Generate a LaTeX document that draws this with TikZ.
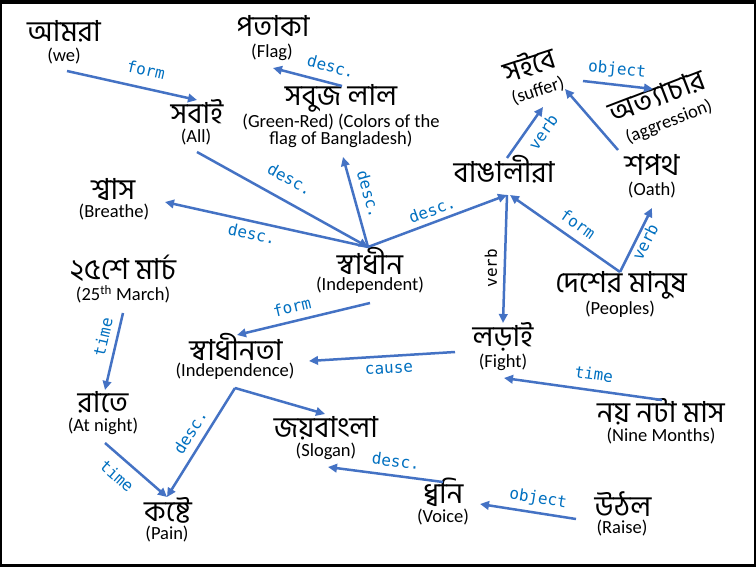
\documentclass[tikz,border=0pt]{standalone}
\usepackage{fontspec}
\setmainfont{Carlito}
\newfontfamily\bnfont[Script=Bengali]{Hind Siliguri}
\newfontfamily\relfont{DejaVu Sans Mono}
\usetikzlibrary{arrows.meta}
\definecolor{arr}{HTML}{4472C4}
\definecolor{lbl}{HTML}{0070C0}
\tikzset{
  word/.style={font=\bnfont\fontsize{29}{32}\selectfont, inner sep=0pt},
  gloss/.style={font=\fontsize{18.5}{16}\selectfont, inner sep=0pt, align=center},
  rel/.style={font=\relfont\fontsize{16}{18}\selectfont, text=lbl, inner sep=0pt},
  link/.style={draw=arr, line width=2.5pt, -{Triangle[length=9pt,width=8.5pt]}},
}
\begin{document}
\begin{tikzpicture}[x=1pt,y=-1pt]
\fill[black] (0,0) rectangle (756,567);
\fill[white] (2,4) rectangle (754,564);
\useasboundingbox (0,0) rectangle (756,567);

% nodes
\node[word] (amra) at (64,31) {আমরা};
\node[gloss] (amrag) at (64,56) {(we)};
\node[word] (sobai) at (197,112) {সবাই};
\node[gloss] (sobaig) at (196,137) {(All)};
\node[word] (potaka) at (273,26) {পতাকা};
\node[gloss] (potakag) at (272,52) {(Flag)};
\node[word] (sobuj) at (341,98) {সবুজ লাল};
\node[gloss] (sobujg) at (341,131) {(Green-Red) (Colors of the\\flag of Bangladesh)};
\node[word, rotate=18] (soibe) at (529,64) {সইবে};
\node[gloss, rotate=18] (soibeg) at (538,91) {(suffer)};
\node[word, rotate=21] (atta) at (657,96) {অত্যাচার};
\node[gloss, rotate=21] (attag) at (669,122) {(aggression)};
\node[word] (bangali) at (504,169) {বাঙালীরা};
\node[word] (shopoth) at (652,165) {শপথ};
\node[gloss] (shopothg) at (652,190) {(Oath)};
\node[word] (shvas) at (113,189) {শ্বাস};
\node[gloss] (shvasg) at (114,212) {(Breathe)};
\node[word] (svadhin) at (370,261) {স্বাধীন};
\node[gloss] (svadhing) at (370,285) {(Independent)};
\node[word] (march) at (123,268) {২৫শে মার্চ};
\node[gloss] (marchg) at (123,294) {(25\textsuperscript{th} March)};
\node[word] (desh) at (621,285) {দেশের মানুষ};
\node[gloss] (deshg) at (620,309) {(Peoples)};
\node[word] (svadhinota) at (236,347) {স্বাধীনতা};
\node[gloss] (svadhinotag) at (235,371) {(Independence)};
\node[word] (lorai) at (503,337) {লড়াই};
\node[gloss] (loraig) at (503,362) {(Fight)};
\node[word] (raate) at (103,402) {রাতে};
\node[gloss] (raateg) at (103,426) {(At night)};
\node[word] (joy) at (326,428) {জয়বাংলা};
\node[gloss] (joyg) at (326,451) {(Slogan)};
\node[word] (noy) at (661,412) {নয় নটা মাস};
\node[gloss] (noyg) at (661,436) {(Nine Months)};
\node[word] (koshte) at (168,510) {কষ্টে};
\node[gloss] (koshteg) at (167,534) {(Pain)};
\node[word] (dhoni) at (443,492) {ধ্বনি};
\node[gloss] (dhonig) at (443,517) {(Voice)};
\node[word] (uthol) at (623,504) {উঠল};
\node[gloss] (utholg) at (622,528) {(Raise)};

% connection points
\coordinate (amraOut) at (67,71);
\coordinate (sobaiIn) at (197,100);
\coordinate (sobaiOut) at (197,152);
\coordinate (svIn) at (368,247);
\coordinate (sobujOut) at (342,86);
\coordinate (potakaIn) at (273,68);
\coordinate (sobujIn) at (343,157);
\coordinate (shvasIn) at (165,202);
\coordinate (bnIn) at (507,195);
\coordinate (bnOut) at (507,158);
\coordinate (soibeIn) at (543,107);
\coordinate (shopothOut) at (618,150);
\coordinate (soibeIn2) at (565,89);
\coordinate (soibeOut) at (583,81);
\coordinate (attaIn) at (653,89);
\coordinate (loraiIn) at (503,323);
\coordinate (deshOut) at (620,272);
\coordinate (bnIn2) at (510,195);
\coordinate (shopothIn) at (652,208);
\coordinate (svOut) at (370,303);
\coordinate (svtaIn) at (237,335);
\coordinate (loraiOut) at (455,352);
\coordinate (svtaIn2) at (309,361);
\coordinate (noyOut) at (662,400);
\coordinate (loraiIn2) at (504,378);
\coordinate (marchOut) at (123,313);
\coordinate (raateIn) at (105,390);
\coordinate (raateOut) at (105,443);
\coordinate (koshteIn) at (167,497);
\coordinate (svtaOut) at (235,388);
\coordinate (joyIn) at (325,414);
\coordinate (dhoniOut) at (443,482);
\coordinate (joyIn2) at (328,467);
\coordinate (utholOut) at (576,519);
\coordinate (dhoniIn) at (480,504);

% connectors
\draw[link] (amraOut) -- (sobaiIn);
\draw[link] (sobaiOut) -- (svIn);
\draw[link] (sobujOut) -- (potakaIn);
\draw[link] (svIn) -- (sobujIn);
\draw[link] (svIn) -- (shvasIn);
\draw[link] (svIn) -- (bnIn);
\draw[link] (bnOut) -- (soibeIn);
\draw[link] (shopothOut) -- (soibeIn2);
\draw[link] (soibeOut) -- (attaIn);
\draw[link] (bnIn) -- (loraiIn);
\draw[link] (deshOut) -- (bnIn2);
\draw[link] (deshOut) -- (shopothIn);
\draw[link] (svOut) -- (svtaIn);
\draw[link] (loraiOut) -- (svtaIn2);
\draw[link] (noyOut) -- (loraiIn2);
\draw[link] (marchOut) -- (raateIn);
\draw[link] (raateOut) -- (koshteIn);
\draw[link] (svtaOut) -- (koshteIn);
\draw[link] (svtaOut) -- (joyIn);
\draw[link] (dhoniOut) -- (joyIn2);
\draw[link] (utholOut) -- (dhoniIn);

% relation labels
\node[rel, rotate=-13] (l1) at (146,70) {form};
\node[rel, rotate=-29] (l2) at (290,179) {desc.};
\node[rel, rotate=-15] (l3) at (331,66) {desc.};
\node[rel, rotate=-74] (l4) at (369,194) {desc.};
\node[rel, rotate=-12] (l5) at (252,234) {desc.};
\node[rel, rotate=20] (l6) at (432,210) {desc.};
\node[rel, rotate=55] (l7) at (543,132) {verb};
\node[rel, rotate=-5] (l8) at (617,70) {object};
\node[rel, rotate=90, text=black] (l9) at (491,268) {verb};
\node[rel, rotate=-35] (l10) at (578,224) {form};
\node[rel, rotate=63] (l11) at (645,242) {verb};
\node[rel, rotate=13] (l12) at (292,307) {form};
\node[rel, rotate=3] (l13) at (389,369) {cause};
\node[rel, rotate=-8] (l14) at (594,374) {time};
\node[rel, rotate=77] (l15) at (103,337) {time};
\node[rel, rotate=-41] (l16) at (117,476) {time};
\node[rel, rotate=58] (l17) at (190,432) {desc.};
\node[rel, rotate=-7] (l18) at (396,461) {desc.};
\node[rel, rotate=-9] (l19) at (538,499) {object};
\end{tikzpicture}
\end{document}
